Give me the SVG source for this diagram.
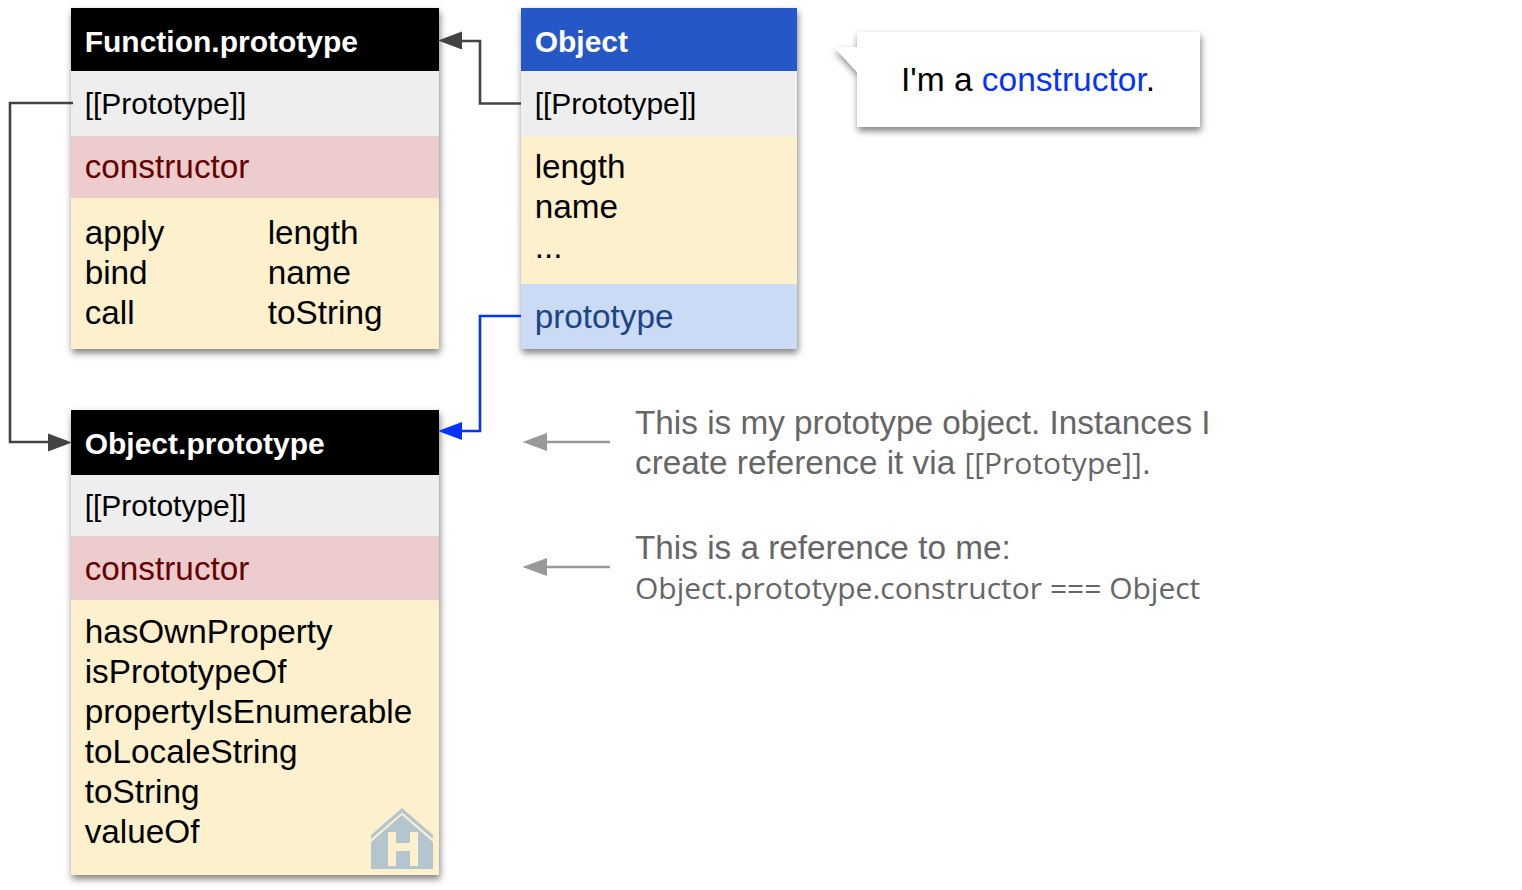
<svg xmlns="http://www.w3.org/2000/svg" width="1522" height="890" viewBox="0 0 1522 890">
<style>
text{font-family:"Liberation Sans",Arial,sans-serif;font-size:33.3px;fill:#000}
.h{font-weight:bold;font-size:30px;fill:#fff}
.k{font-size:30px}
.c{fill:#660000}
.g{fill:#666}
.p{fill:#1c4587}
.m{font-family:"Open Sans","Noto Sans",sans-serif;font-size:30px;fill:#666}
.w{fill:none;stroke-width:2.6}
</style>
<defs>
<filter id="s" x="-10%" y="-10%" width="120%" height="120%"><feDropShadow dx="1" dy="4" stdDeviation="3.5" flood-color="#000" flood-opacity=".5"/></filter>
</defs>
<g id="fp">
<rect x="71" y="8" width="368" height="341" fill="#fdf1cd" filter="url(#s)"/>
<rect x="71" y="8" width="368" height="63" fill="#000"/>
<rect x="71" y="71" width="368" height="65" fill="#eee"/>
<rect x="71" y="136" width="368" height="62" fill="#eccccc"/>
<text class="h" x="84.700" y="52">Function.prototype</text>
<text class="k" x="84.700" y="114">[[Prototype]]</text>
<text class="c" x="84.700" y="178">constructor</text>
<text x="84.700" y="244">apply</text><text x="84.700" y="284">bind</text><text x="84.700" y="324">call</text>
<text x="267.700" y="244">length</text><text x="267.700" y="284">name</text><text x="267.700" y="324">toString</text>
</g>
<g id="obj">
<rect x="521" y="8" width="276" height="341" fill="#fdf1cd" filter="url(#s)"/>
<rect x="521" y="8" width="276" height="63" fill="#2558c6"/>
<rect x="521" y="71" width="276" height="65" fill="#eee"/>
<rect x="521" y="284" width="276" height="65" fill="#cbdaf5"/>
<text class="h" x="534.700" y="52">Object</text>
<text class="k" x="534.700" y="114">[[Prototype]]</text>
<text x="534.700" y="178">length</text><text x="534.700" y="218">name</text><text x="534.700" y="258">...</text>
<text class="p" x="534.700" y="328">prototype</text>
</g>
<g id="op">
<rect x="71" y="410" width="368" height="465" fill="#fdf1cd" filter="url(#s)"/>
<rect x="71" y="410" width="368" height="65" fill="#000"/>
<rect x="71" y="475" width="368" height="61" fill="#eee"/>
<rect x="71" y="536" width="368" height="64" fill="#eccccc"/>
<text class="h" x="84.700" y="454">Object.prototype</text>
<text class="k" x="84.700" y="516">[[Prototype]]</text>
<text class="c" x="84.700" y="580">constructor</text>
<text x="84.700" y="643">hasOwnProperty</text><text x="84.700" y="683">isPrototypeOf</text><text x="84.700" y="723">propertyIsEnumerable</text><text x="84.700" y="763">toLocaleString</text><text x="84.700" y="803">toString</text><text x="84.700" y="843">valueOf</text>
<path d="M371 835L402 808L433 835V839L402 812.500L371 839Z" fill="#b3c5cf"/>
<path fill-rule="evenodd" d="M371 842L402 815L433 842V869H371ZM388 832V866H396V851H410V866H418V832H410V843H396V832Z" fill="#b3c5cf"/>
</g>
<g id="callout">
<path d="M857 32H1200V127H857V72L834 47H857Z" fill="#fff" filter="url(#s)"/>
<text x="901" y="91" style="font-size:33.5px">I'm a <tspan fill="#0433ff">constructor</tspan>.</text>
</g>
<g id="connectors">
<path class="w" stroke="#434343" d="M521 103.500H480V41H460"/>
<path d="M438 40.500L462 31.500V49.500Z" fill="#434343"/>
<path class="w" stroke="#434343" d="M73 103H10V442H50"/>
<path d="M72 442.500L48 433.500V451.500Z" fill="#434343"/>
<path class="w" stroke="#0433ff" d="M521 316H480V431H460"/>
<path d="M438 431L462 422V440Z" fill="#0433ff"/>
<path class="w" stroke="#999" d="M610 442H545"/>
<path d="M522.500 442L547 433V451Z" fill="#999"/>
<path class="w" stroke="#999" d="M610 567H545"/>
<path d="M522.500 567L547 558V576Z" fill="#999"/>
</g>
<g id="notes">
<text class="g" x="635" y="434">This is my prototype object. Instances I</text>
<text class="g" x="635" y="474">create reference it via <tspan class="m">[[Prototype]]</tspan>.</text>
<text class="g" x="635" y="559">This is a reference to me:</text>
<text class="m" x="635" y="599">Object.prototype.constructor === Object</text>
</g>
</svg>
